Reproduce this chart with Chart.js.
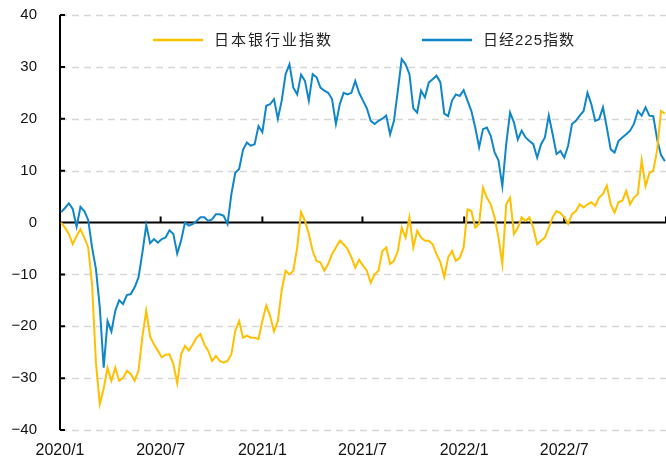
<!DOCTYPE html>
<html>
<head>
<meta charset="utf-8">
<script src="https://cdn.jsdelivr.net/npm/chart.js@4.4.0/dist/chart.umd.min.js"></script>
<style>
    html, body { margin: 0; padding: 0; background: #fff; }
    #wrap { width: 666px; height: 463px; }
</style>
</head>
<body>
<div id="wrap"><canvas id="chart"></canvas></div>
<script>
// weekly samples (Fridays), first one 2020-01-03, % change since start of 2020
const seriesNames = ['日本银行业指数', '日经225指数'];
const seriesColors = ['#FFC000', '#0F86C8'];
const tickLabels = ['2020/1', '2020/7', '2021/1', '2021/7', '2022/1', '2022/7', '2023/1'];
const tickDays = [0, 182, 366, 547, 731, 912, 1096];
const yTicks = [-40, -30, -20, -10, 0, 10, 20, 30, 40];
const firstDay = 2;

const bankIndex = [
    0, -1, -2.2, -4.2, -2.6, -1.3, -2.9, -4.8, -12, -27,
    -35, -32, -28, -30.5, -28, -30.5, -30, -28.6, -29.2, -30.5,
    -28.6, -22, -17, -22, -23.5, -24.7, -26, -25.5, -25.4, -27.3,
    -31, -25.4, -23.8, -24.7, -23.5, -22.2, -21.5, -23.5, -24.7, -26.7,
    -25.7, -26.7, -27, -26.7, -25.4, -20.9, -19, -22.2, -21.8, -22.2,
    -22.2, -22.5, -19, -16, -18, -21, -19, -13, -9.3, -10,
    -9.3, -4.8, 2, 0.3, -2.2, -5.5, -7.4, -7.7, -9.3, -8,
    -6.1, -4.8, -3.5, -4.2, -5.1, -6.7, -8.7, -7.2, -8.3, -9.3,
    -11.6, -10, -9.3, -5.5, -4.8, -8, -7.4, -5.5, -1, -2.9,
    1, -4.8, -1.6, -2.9, -3.5, -3.5, -4.2, -6.1, -7.7, -10.5,
    -6.7, -5.5, -7.4, -6.8, -4.8, 2.5, 2.2, -1, -0.3, 6.7,
    4.8, 3.5, 1, -2.9, -8, 3.5, 4.8, -2.2, -1, 1,
    0.3, 1, -1, -4.2, -3.5, -2.9, -1, 1, 2.2, 1.8,
    1, -0.3, 1.6, 2.2, 3.5, 2.9, 3.5, 3.9, 3.2, 4.8,
    5.5, 7.1, 3.5, 1.9, 3.9, 4.2, 6.1, 3.5, 4.8, 5.5,
    12, 7, 9.5, 10, 14, 21.5, 21
];

const nikkei225 = [
    2, 2.8, 3.7, 2.6, -0.8, 3, 2.2, 0.5, -4.8, -9,
    -16.4, -28, -19, -21, -17, -15, -15.7, -14, -13.8, -12.5,
    -10.6, -5.8, -0.5, -4, -3.2, -3.9, -3.2, -2.9, -1.5, -2.2,
    -6, -3.5, 0, -0.6, -0.3, 0.3, 1, 1, 0.3, 0.6,
    1.6, 1.6, 1.3, -0.3, 5.5, 9.6, 10.3, 14, 15.4, 14.8,
    15.1, 18.6, 17.4, 22.5, 22.8, 23.8, 20, 23.5, 28.6, 30.5,
    26, 24.7, 28.5, 27.3, 23.5, 28.6, 28, 26, 25.4, 25,
    23.8, 19, 22.8, 25, 24.7, 25, 27.3, 25, 23.5, 22,
    19.6, 19, 19.6, 20, 20.6, 17, 19.6, 25.4, 31.5, 30.5,
    28.6, 22, 21.2, 25.4, 24.1, 27, 27.6, 28.3, 27, 21,
    20.5, 23.5, 24.7, 24.4, 25.5, 23.5, 21.5, 18.3, 14.5, 18,
    18.3, 16.7, 13.5, 12, 7, 15.1, 21.2, 19.3, 16, 17.7,
    16.4, 15.7, 15.1, 12.5, 15.1, 16.4, 20.6, 17, 13.2, 13.8,
    12.5, 14.8, 19, 19.6, 20.6, 21.5, 25, 22.8, 19.6, 19.9,
    22.2, 18.3, 14.1, 13.5, 15.7, 16.4, 17, 17.7, 19, 21.5,
    20.6, 22.2, 20.6, 20.5, 16, 13, 11.8
];

const toPoints = arr => arr.map((v, i) => ({ x: firstDay + i * 7, y: v }));

// grid, axes (x axis crosses at 0) and legend, drawn like the original
const axesPlugin = {
    id: 'axesPlugin',
    beforeDatasetsDraw(chart) {
        const { ctx, chartArea: a, scales: { x, y } } = chart;
        ctx.save();
        // dashed grid
        ctx.strokeStyle = '#d6d6d6';
        ctx.lineWidth = 1.5;
        ctx.setLineDash([7, 5]);
        ctx.beginPath();
        yTicks.filter(v => v !== 0).forEach(v => {
            const py = Math.round(y.getPixelForValue(v)) + 0.5;
            ctx.moveTo(a.left, py);
            ctx.lineTo(a.right, py);
        });
        ctx.stroke();
        ctx.setLineDash([]);

        const y0 = y.getPixelForValue(0);
        ctx.strokeStyle = '#000';
        ctx.lineWidth = 2;
        ctx.beginPath();
        ctx.moveTo(a.left, y0);
        ctx.lineTo(a.right, y0);
        tickDays.forEach(d => {
            const px = x.getPixelForValue(d);
            ctx.moveTo(px, y0);
            ctx.lineTo(px, y0 - 6);
        });
        ctx.moveTo(a.left, a.top);
        ctx.lineTo(a.left, a.bottom);
        yTicks.forEach(v => {
            const py = y.getPixelForValue(v);
            ctx.moveTo(a.left, py);
            ctx.lineTo(a.left + 5, py);
        });
        ctx.stroke();
        ctx.restore();
    },
    afterDatasetsDraw(chart) {
        const { ctx, chartArea: a } = chart;
        const items = [
            { x: a.left + 93, spacing: '2px' },
            { x: a.left + 362, spacing: '1px' }
        ];
        ctx.save();
        ctx.font = '15px "Liberation Sans", "Noto Sans CJK SC", sans-serif';
        ctx.textBaseline = 'middle';
        ctx.fillStyle = '#222';
        items.forEach((it, i) => {
            const ly = a.top + 25;
            ctx.strokeStyle = seriesColors[i];
            ctx.lineWidth = 2.5;
            ctx.beginPath();
            ctx.moveTo(it.x, ly);
            ctx.lineTo(it.x + 50, ly);
            ctx.stroke();
            ctx.letterSpacing = it.spacing;
            ctx.fillText(seriesNames[i], it.x + 61, ly + 1);
        });
        ctx.restore();
    }
};

Chart.defaults.font.family = '"Liberation Sans", Arial, sans-serif';
Chart.defaults.font.size = 15;
Chart.defaults.color = '#111';

new Chart(document.getElementById('chart'), {
    type: 'line',
    data: {
        datasets: [
            {
                label: seriesNames[0],
                data: toPoints(bankIndex),
                borderColor: seriesColors[0],
                borderWidth: 2,
                pointRadius: 0,
                tension: 0
            },
            {
                label: seriesNames[1],
                data: toPoints(nikkei225),
                borderColor: seriesColors[1],
                borderWidth: 2,
                pointRadius: 0,
                tension: 0
            }
        ]
    },
    options: {
        responsive: true,
        maintainAspectRatio: false,
        animation: false,
        layout: { padding: { top: 15, bottom: 0, right: 0, left: 0 } },
        plugins: {
            legend: { display: false },
            tooltip: { enabled: false }
        },
        scales: {
            x: {
                type: 'linear',
                min: 0,
                max: 1096,
                grid: { display: false, drawTicks: false },
                border: { display: false },
                afterBuildTicks: scale => {
                    scale.ticks = tickDays.slice(0, 6).map(v => ({ value: v }));
                },
                afterFit: scale => {
                    scale.height = 33;
                    scale.paddingLeft = 0;
                    scale.paddingRight = 0;
                },
                ticks: {
                    padding: 11,
                    font: { size: 16 },
                    maxRotation: 0,
                    autoSkip: false,
                    callback: (value) => tickLabels[tickDays.indexOf(value)]
                }
            },
            y: {
                min: -40,
                max: 40,
                afterFit: scale => {
                    scale.width = 60;
                    scale.paddingTop = 0;
                    scale.paddingBottom = 0;
                },
                grid: { display: false, drawTicks: false },
                border: { display: false },
                afterBuildTicks: scale => {
                    scale.ticks = yTicks.map(v => ({ value: v }));
                },
                ticks: {
                    padding: 23,
                    callback: v => String(v).replace('-', '\u2212')
                }
            }
        }
    },
    plugins: [axesPlugin]
});
</script>
</body>
</html>
